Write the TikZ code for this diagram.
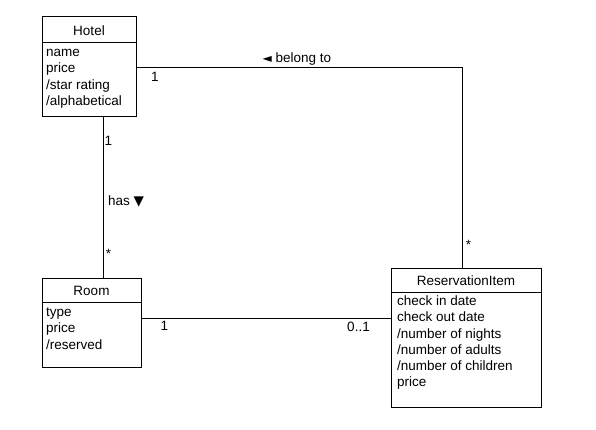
\documentclass[tikz,border=0pt]{standalone}
\usepackage{fontspec}
\setmainfont{Liberation Sans}
\newfontfamily\symfont{DejaVu Sans}
\usepackage{tikz}
\usetikzlibrary{positioning}

\tikzset{
    umlbox/.style={draw, line width=1pt, inner sep=0pt},
    assoc/.style={line width=1pt},
    title/.style={inner sep=0pt, font=\fontsize{13.5}{16}\selectfont},
    attr/.style={anchor=base west, inner sep=0pt, font=\fontsize{13.5}{16}\selectfont},
    lbl/.style={inner sep=0pt, font=\fontsize{13.5}{16}\selectfont}
}

\begin{document}
\begin{tikzpicture}[x=1pt, y=-1pt]
        \useasboundingbox (0,0) rectangle (596,430);
        % Class boxes
        \node[umlbox, minimum width=94, minimum height=100] (hotel) at (89,67) {};
        \node[umlbox, minimum width=99, minimum height=89] (room) at (91.5,322.5) {};
        \node[umlbox, minimum width=150, minimum height=139] (resv) at (466,337.5) {};
        % Header lines
        \draw[assoc] (hotel.west |- 0,43) -- (hotel.east |- 0,43);
        \draw[assoc] (room.west |- 0,302) -- (room.east |- 0,302);
        \draw[assoc] (resv.west |- 0,292) -- (resv.east |- 0,292);
        % Class names
        \node[title] (hoteltitle) at (89,30.5) {Hotel};
        \node[title] (roomtitle) at (91.5,290.5) {Room};
        \node[title] (resvtitle) at (466,280.5) {ReservationItem};
        % Attributes
        \foreach \t [count=\i] in {name,price,/star rating,/alphabetical}
            \node[attr] (hotelattr\i) at (46,{40+16.4*\i}) {\t};
        \foreach \t [count=\i] in {type,price,/reserved}
            \node[attr] (roomattr\i) at (46,{300.5+16.2*\i}) {\t};
        \foreach \t [count=\i] in {check in date,check out date,/number of nights,/number of adults,/number of children,price}
            \node[attr] (resvattr\i) at (397,{289.5+16.2*\i}) {\t};
        % Associations
        \coordinate (bend) at (462,68);
        \coordinate (hasx) at (103,0);
        \coordinate (booky) at (0,318);
        \draw[assoc] (hotel.east |- bend) -- (bend) -- (resv.north -| bend);
        \draw[assoc] (hotel.south -| hasx) -- (room.north -| hasx);
        \draw[assoc] (room.east |- booky) -- (resv.west |- booky);
        % Multiplicities and names
        \node[lbl] (belongone) at (155,77) {1};
        \node[lbl] (belongname) at (297,59) {{\symfont\fontsize{12}{12}\selectfont\char"25C4}\ belong to};
        \node[lbl] (belongmany) at (468.5,245) {*};
        \node[lbl] (hasone) at (108.5,141) {1};
        \node[lbl] (hasname) at (126,201) {has {\symfont\char"25BC}};
        \node[lbl] (hasmany) at (108.5,254) {*};
        \node[lbl] (bookone) at (164.5,326) {1};
        \node[lbl] (bookopt) at (358.5,327) {0..1};
\end{tikzpicture}
\end{document}
